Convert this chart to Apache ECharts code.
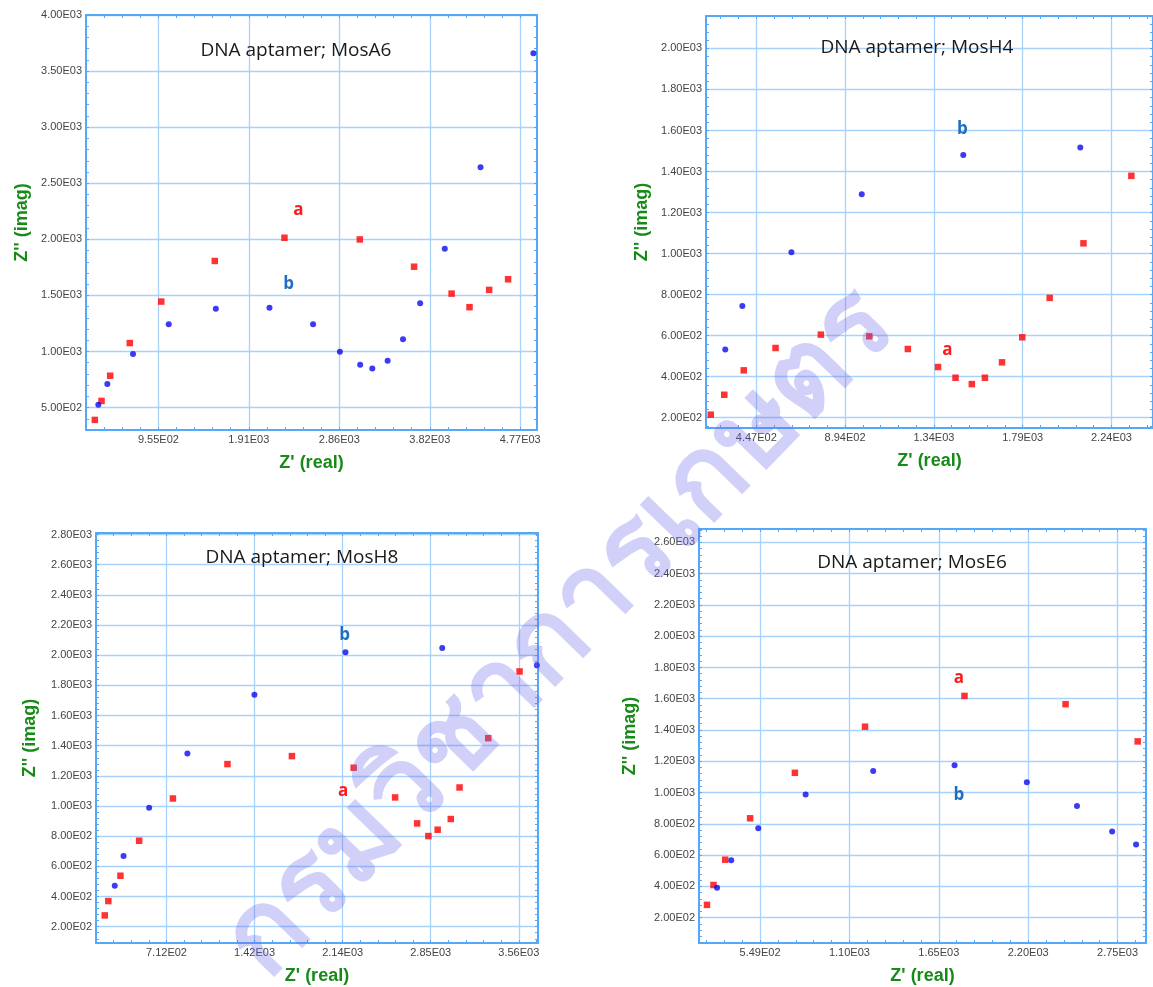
<!DOCTYPE html>
<html>
<head>
<meta charset="utf-8">
<script src="https://cdn.jsdelivr.net/npm/echarts@6/dist/echarts.min.js"></script>
<style>
  html, body { margin: 0; padding: 0; background: #fff; }
  #chart { width: 1153px; height: 987px; }
</style>
</head>
<body>
<div id="chart"></div>
<script>
// ---- data ----
// MosA6
const a6X = [954.6, 1909.2, 2863.8, 3818.4, 4773];
const a6XLabels = ['9.55E02', '1.91E03', '2.86E03', '3.82E03', '4.77E03'];
const a6Y = [500, 1000, 1500, 2000, 2500, 3000, 3500, 4000];
const a6YLabels = ['5.00E02', '1.00E03', '1.50E03', '2.00E03', '2.50E03', '3.00E03', '3.50E03', '4.00E03'];
const a6A = [[284, 390], [355, 559], [446, 784], [653, 1075], [985, 1445], [1550, 1807], [2285, 2014], [3080, 1999], [3653, 1756], [4049, 1516], [4238, 1395], [4445, 1549], [4645, 1644]];
const a6B = [[321, 526], [416, 710], [687, 977], [1064, 1243], [1561, 1380], [2127, 1389], [2587, 1243], [2870, 997], [3084, 882], [3212, 849], [3374, 917], [3536, 1110], [3717, 1430], [3977, 1916], [4354, 2642], [4912, 3659]];

// MosH4
const h4X = [447, 894, 1341, 1788, 2235];
const h4XLabels = ['4.47E02', '8.94E02', '1.34E03', '1.79E03', '2.24E03'];
const h4Y = [200, 400, 600, 800, 1000, 1200, 1400, 1600, 1800, 2000];
const h4YLabels = ['2.00E02', '4.00E02', '6.00E02', '8.00E02', '1.00E03', '1.20E03', '1.40E03', '1.60E03', '1.80E03', '2.00E03'];
const h4A = [[218, 215], [286, 312], [384, 431], [544, 540], [772, 605], [1016, 597], [1210, 535], [1362, 447], [1450, 395], [1532, 364], [1598, 395], [1684, 470], [1786, 592], [1924, 784], [2094, 1050], [2335, 1379]];
const h4B = [[291, 533], [377, 745], [624, 1007], [978, 1289], [1489, 1480], [2078, 1517]];

// MosH8
const h8X = [712, 1424, 2136, 2848, 3560];
const h8XLabels = ['7.12E02', '1.42E03', '2.14E03', '2.85E03', '3.56E03'];
const h8Y = [200, 400, 600, 800, 1000, 1200, 1400, 1600, 1800, 2000, 2200, 2400, 2600, 2800];
const h8YLabels = ['2.00E02', '4.00E02', '6.00E02', '8.00E02', '1.00E03', '1.20E03', '1.40E03', '1.60E03', '1.80E03', '2.00E03', '2.20E03', '2.40E03', '2.60E03', '2.80E03'];
const h8A = [[213, 275], [242, 370], [340, 538], [491, 770], [764, 1050], [1205, 1278], [1726, 1331], [2225, 1254], [2560, 1057], [2738, 885], [2829, 801], [2904, 843], [3010, 914], [3081, 1123], [3313, 1450], [3566, 1892]];
const h8B = [[294, 472], [365, 668], [572, 989], [881, 1349], [1423, 1737], [2159, 2020], [2941, 2047], [3706, 1934]];

// MosE6
const e6X = [549, 1098, 1647, 2196, 2745];
const e6XLabels = ['5.49E02', '1.10E03', '1.65E03', '2.20E03', '2.75E03'];
const e6Y = [200, 400, 600, 800, 1000, 1200, 1400, 1600, 1800, 2000, 2200, 2400, 2600];
const e6YLabels = ['2.00E02', '4.00E02', '6.00E02', '8.00E02', '1.00E03', '1.20E03', '1.40E03', '1.60E03', '1.80E03', '2.00E03', '2.20E03', '2.40E03', '2.60E03'];
const e6A = [[223, 281], [263, 408], [335, 570], [488, 835], [763, 1126], [1194, 1421], [1805, 1618], [2426, 1565], [2869, 1327]];
const e6B = [[285, 390], [372, 566], [538, 771], [829, 987], [1244, 1137], [1744, 1175], [2188, 1066], [2496, 914], [2712, 750], [2859, 668]];

// ---- layout ----
const FRAME = '#55a8f7';
const GRIDC = '#a9d2fa';
const GREEN = '#178a17';

const panels = [
  { title: 'DNA aptamer; MosA6', box: { left: 86, top: 15, width: 451, height: 415 }, titleAt: [296, 51],
    x: { min: 190.9, max: 4950, ticks: a6X, labels: a6XLabels, minor: 190.92 },
    y: { min: 300, max: 4000, ticks: a6Y, labels: a6YLabels, minor: 100 },
    a: a6A, b: a6B, aAt: [2432, 2260], bAt: [2330, 1596], yGap: 55 },
  { title: 'DNA aptamer; MosH4', box: { left: 706, top: 16, width: 452, height: 412 }, titleAt: [917, 48],
    x: { min: 194, max: 2444, ticks: h4X, labels: h4XLabels, minor: 89.4 },
    y: { min: 150, max: 2158, ticks: h4Y, labels: h4YLabels, minor: 40 },
    a: h4A, b: h4B, aAt: [1409, 528], bAt: [1484, 1605], yGap: 55 },
  { title: 'DNA aptamer; MosH8', box: { left: 96, top: 533, width: 442, height: 410 }, titleAt: [302, 558],
    x: { min: 142.4, max: 3715, ticks: h8X, labels: h8XLabels, minor: 142.4 },
    y: { min: 92, max: 2810, ticks: h8Y, labels: h8YLabels, minor: 40 },
    a: h8A, b: h8B, aAt: [2139, 1101], bAt: [2153, 2133], yGap: 57 },
  { title: 'DNA aptamer; MosE6', box: { left: 699, top: 529, width: 447, height: 414 }, titleAt: [912, 563],
    x: { min: 174, max: 2920, ticks: e6X, labels: e6XLabels, minor: 109.8 },
    y: { min: 37, max: 2686, ticks: e6Y, labels: e6YLabels, minor: 40 },
    a: e6A, b: e6B, aAt: [1770, 1732], bAt: [1770, 981], yGap: 60 }
];

function minorValues(ax) {
  const out = [];
  let k = Math.ceil(ax.min / ax.minor - 1e-6);
  for (; k * ax.minor <= ax.max + 1e-6; k++) out.push(+(k * ax.minor).toFixed(3));
  return out;
}

function labelOf(ax) {
  return (v) => {
    let best = 0;
    ax.ticks.forEach((t, i) => { if (Math.abs(t - v) < Math.abs(ax.ticks[best] - v)) best = i; });
    return ax.labels[best];
  };
}

const labelFont = { color: '#444', fontSize: 11, fontFamily: 'Liberation Sans, Arial, sans-serif' };
const nameFont = { color: GREEN, fontSize: 18, fontWeight: 'bold', fontFamily: 'Liberation Sans, Arial, sans-serif' };

const grid = [], xAxis = [], yAxis = [], series = [], graphic = [];

panels.forEach((p, i) => {
  grid.push(p.box);
  const xMinor = minorValues(p.x), yMinor = minorValues(p.y);
  // main axes: line, labels, grid lines
  xAxis.push({
    gridIndex: i, type: 'value', min: p.x.min, max: p.x.max, position: 'bottom',
    name: "Z' (real)", nameLocation: 'middle', nameGap: 24, nameTextStyle: nameFont,
    axisLine: { onZero: false, lineStyle: { color: FRAME, width: 2 } },
    axisTick: { show: true, inside: true, length: 3, customValues: p.x.ticks, lineStyle: { color: FRAME } },
    axisLabel: { customValues: p.x.ticks, formatter: labelOf(p.x), margin: 4, ...labelFont },
    splitLine: { show: true, lineStyle: { color: GRIDC, width: 1.3 } }
  });
  yAxis.push({
    gridIndex: i, type: 'value', min: p.y.min, max: p.y.max, position: 'left',
    name: "Z'' (imag)", nameLocation: 'middle', nameGap: p.yGap, nameTextStyle: nameFont,
    axisLine: { onZero: false, lineStyle: { color: FRAME, width: 2 } },
    axisTick: { show: true, inside: true, length: 3, customValues: p.y.ticks, lineStyle: { color: FRAME } },
    axisLabel: { customValues: p.y.ticks, formatter: labelOf(p.y), margin: 4, ...labelFont },
    splitLine: { show: true, lineStyle: { color: GRIDC, width: 1.3 } }
  });
  // minor ticks, bottom/left
  xAxis.push({
    gridIndex: i, type: 'value', min: p.x.min, max: p.x.max, position: 'bottom',
    axisLine: { show: false, onZero: false },
    axisTick: { inside: true, length: 3, customValues: xMinor, lineStyle: { color: FRAME } },
    axisLabel: { show: false }, splitLine: { show: false }
  });
  yAxis.push({
    gridIndex: i, type: 'value', min: p.y.min, max: p.y.max, position: 'left',
    axisLine: { show: false, onZero: false },
    axisTick: { inside: true, length: 3, customValues: yMinor, lineStyle: { color: FRAME } },
    axisLabel: { show: false }, splitLine: { show: false }
  });
  // frame top/right with minor ticks
  xAxis.push({
    gridIndex: i, type: 'value', min: p.x.min, max: p.x.max, position: 'top',
    axisLine: { onZero: false, lineStyle: { color: FRAME, width: 2 } },
    axisTick: { inside: true, length: 3, customValues: xMinor, lineStyle: { color: FRAME } },
    axisLabel: { show: false }, splitLine: { show: false }
  });
  yAxis.push({
    gridIndex: i, type: 'value', min: p.y.min, max: p.y.max, position: 'right',
    axisLine: { onZero: false, lineStyle: { color: FRAME, width: 2 } },
    axisTick: { inside: true, length: 3, customValues: yMinor, lineStyle: { color: FRAME } },
    axisLabel: { show: false }, splitLine: { show: false }
  });

  const mp = (coord, txt, color) => ({
    coord, symbol: 'rect', symbolSize: 1, itemStyle: { color: 'transparent' },
    label: { show: true, position: 'inside', formatter: txt, color, fontSize: 17, fontWeight: 'bold', fontFamily: 'Open Sans, Noto Sans, sans-serif' }
  });
  series.push({
    type: 'scatter', name: 'a', xAxisIndex: 3 * i, yAxisIndex: 3 * i, data: p.a,
    symbol: 'rect', symbolSize: 6.5, itemStyle: { color: '#ff0000' }, z: 3,
    markPoint: { silent: true, data: [mp(p.aAt, 'a', '#ff1a1a')] }
  });
  series.push({
    type: 'scatter', name: 'b', xAxisIndex: 3 * i, yAxisIndex: 3 * i, data: p.b,
    symbol: 'circle', symbolSize: 6, itemStyle: { color: '#0a0af0' }, z: 4,
    markPoint: { silent: true, data: [mp(p.bAt, 'b', '#1e6fc2')] }
  });
  graphic.push({
    type: 'text', x: p.titleAt[0], y: p.titleAt[1], z: 10,
    style: { text: p.title, fill: '#1a1a1a', fontSize: 19, fontFamily: 'Open Sans, Noto Sans, sans-serif', align: 'center', verticalAlign: 'middle' }
  });
});

// watermark
graphic.push({
  type: 'text', x: 560, y: 634, rotation: Math.PI * 0.255, z: 100, silent: true,
  style: { text: 'กรมวิชาการเกษตร', fill: 'rgba(110,110,235,0.32)', fontSize: 112, fontWeight: 'bold', fontFamily: 'Noto Sans, DejaVu Sans, sans-serif', align: 'center', verticalAlign: 'middle' }
});

const chart = echarts.init(document.getElementById('chart'), null, { renderer: 'canvas' });
chart.setOption({
  backgroundColor: '#fff',
  animation: false,
  grid, xAxis, yAxis, series, graphic
});
window.addEventListener('resize', () => chart.resize());
</script>
</body>
</html>
